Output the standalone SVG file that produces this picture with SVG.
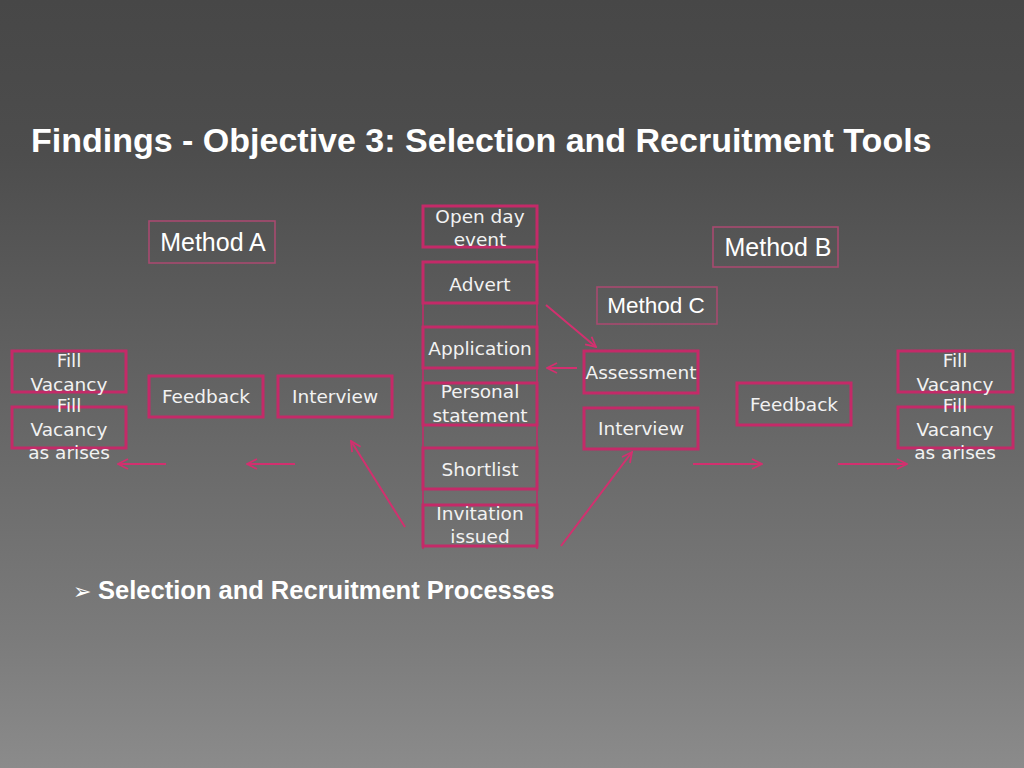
<svg xmlns="http://www.w3.org/2000/svg" width="1024" height="768" viewBox="0 0 1024 768">
<defs>
<linearGradient id="bg" x1="0" y1="0" x2="0" y2="1">
<stop offset="0" stop-color="#474747"/>
<stop offset="0.2" stop-color="#4d4d4d"/>
<stop offset="0.83" stop-color="#7b7b7b"/>
<stop offset="1" stop-color="#8b8b8b"/>
</linearGradient>
<marker id="ah" viewBox="0 0 12 12" refX="11" refY="6" markerWidth="12" markerHeight="12" markerUnits="userSpaceOnUse" orient="auto">
<path d="M1,1 L11,6 L1,11" fill="none" stroke="#d2306f" stroke-width="1.8"/>
</marker>
<style>
.box{fill:none;stroke:#c42a68;stroke-width:3}
.mbox{fill:none;stroke:#a84a70;stroke-width:1.6}
.t{font-family:"DejaVu Sans","Liberation Sans",sans-serif;font-size:18.5px;fill:#f2f2f2;text-anchor:middle}
.m{font-family:"Liberation Sans",Arial,sans-serif;font-size:25px;fill:#ffffff;text-anchor:middle}
.c{fill:none;stroke:#d2306f;stroke-width:2;marker-end:url(#ah)}
.frame{fill:none;stroke:#c42a68;stroke-width:1.5}
</style>
</defs>
<rect width="1024" height="768" fill="url(#bg)"/>
<text x="31" y="152" font-family="Liberation Sans, Arial, sans-serif" font-size="34" font-weight="bold" fill="#ffffff">Findings - Objective 3: Selection and Recruitment Tools</text>
<text x="73" y="599" font-family="DejaVu Sans, sans-serif" font-size="22" fill="#ffffff">➢</text>
<text x="98" y="599" font-family="Liberation Sans, Arial, sans-serif" font-size="25.5" font-weight="bold" fill="#ffffff">Selection and Recruitment Processes</text>

<g id="frame">
<line class="frame" x1="537" y1="205" x2="537" y2="549"/>
<line class="frame" x1="423" y1="262" x2="423" y2="549"/>
</g>

<g id="connectors">
<line class="c" x1="546" y1="305" x2="596" y2="347"/>
<line class="c" x1="577" y1="368" x2="547" y2="368"/>
<line class="c" x1="561" y1="546" x2="632" y2="452"/>
<line class="c" x1="405" y1="527" x2="351" y2="441"/>
<line class="c" x1="166" y1="464" x2="118" y2="464"/>
<line class="c" x1="295" y1="464" x2="247" y2="464"/>
<line class="c" x1="693" y1="464" x2="762" y2="464"/>
<line class="c" x1="838" y1="464" x2="907" y2="464"/>
</g>

<g id="method-a"><rect class="mbox" x="149" y="221" width="126" height="42"/><text class="m" x="213" y="251">Method A</text></g>
<g id="method-b"><rect class="mbox" x="713" y="227" width="125" height="40"/><text class="m" x="778" y="256">Method B</text></g>
<g id="method-c"><rect class="mbox" x="597" y="287" width="120" height="37"/><text class="m" x="656" y="313" style="font-size:22.5px">Method C</text></g>

<g id="open-day"><rect class="box" x="423" y="206" width="114" height="41"/><text class="t" x="480" y="223">Open day</text><text class="t" x="480" y="246">event</text></g>
<g id="advert"><rect class="box" x="423" y="262" width="114" height="41"/><text class="t" x="480" y="291">Advert</text></g>
<g id="application"><rect class="box" x="423" y="327" width="114" height="41"/><text class="t" x="480" y="355">Application</text></g>
<g id="personal-statement"><rect class="box" x="423" y="383" width="114" height="42"/><text class="t" x="480" y="398">Personal</text><text class="t" x="480" y="422">statement</text></g>
<g id="shortlist"><rect class="box" x="423" y="448" width="114" height="41"/><text class="t" x="480" y="476">Shortlist</text></g>
<g id="invitation"><rect class="box" x="423" y="505" width="114" height="41"/><text class="t" x="480" y="520">Invitation</text><text class="t" x="480" y="543">issued</text></g>

<g id="assessment"><rect class="box" x="584" y="351" width="114" height="42"/><text class="t" x="641" y="379">Assessment</text></g>
<g id="interview-b"><rect class="box" x="584" y="408" width="114" height="41"/><text class="t" x="641" y="435">Interview</text></g>
<g id="feedback-b"><rect class="box" x="737" y="383" width="114" height="42"/><text class="t" x="794" y="411">Feedback</text></g>
<g id="fill-vacancy-b"><rect class="box" x="898" y="351" width="115" height="41"/><text class="t" x="955" y="367">Fill</text><text class="t" x="955" y="391">Vacancy</text></g>
<g id="fill-arises-b"><rect class="box" x="898" y="407" width="115" height="41"/><text class="t" x="955" y="412">Fill</text><text class="t" x="955" y="436">Vacancy</text><text class="t" x="955" y="459">as arises</text></g>

<g id="interview-a"><rect class="box" x="278" y="376" width="114" height="41"/><text class="t" x="335" y="403">Interview</text></g>
<g id="feedback-a"><rect class="box" x="149" y="376" width="114" height="41"/><text class="t" x="206" y="403">Feedback</text></g>
<g id="fill-vacancy-a"><rect class="box" x="12" y="351" width="114" height="41"/><text class="t" x="69" y="367">Fill</text><text class="t" x="69" y="391">Vacancy</text></g>
<g id="fill-arises-a"><rect class="box" x="12" y="407" width="114" height="41"/><text class="t" x="69" y="412">Fill</text><text class="t" x="69" y="436">Vacancy</text><text class="t" x="69" y="459">as arises</text></g>
</svg>
